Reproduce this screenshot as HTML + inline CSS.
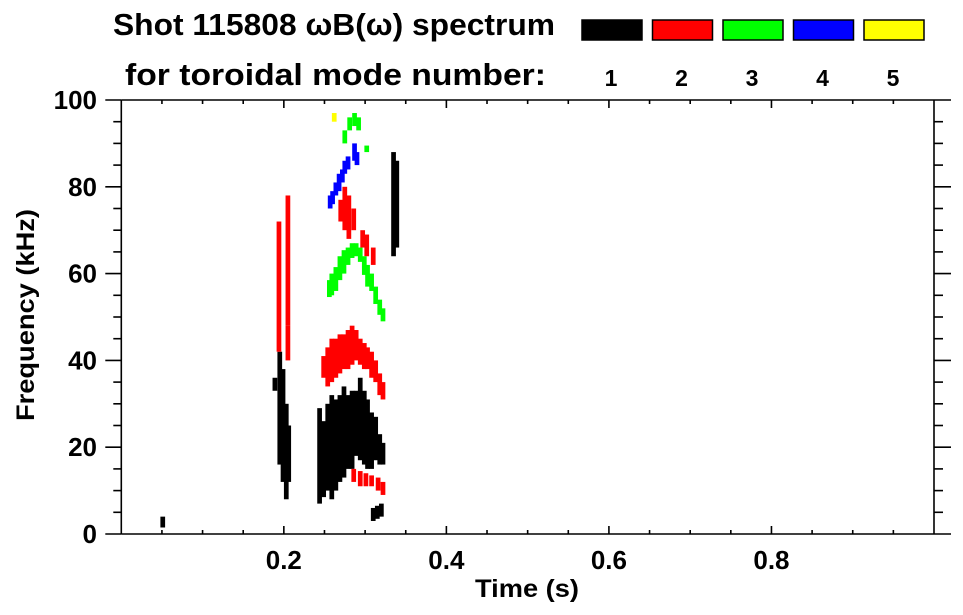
<!DOCTYPE html>
<html><head><meta charset="utf-8"><style>
html,body{margin:0;padding:0;background:#fff;}
svg{display:block;font-family:"Liberation Sans",Arial,sans-serif;font-weight:bold;}
</style></head><body>
<svg id="chart" width="963" height="615" viewBox="0 0 963 615">
<text x="113" y="35" font-size="31" textLength="442" lengthAdjust="spacingAndGlyphs">Shot 115808 ωB(ω) spectrum</text>
<text x="125" y="85" font-size="31" textLength="421" lengthAdjust="spacingAndGlyphs">for toroidal mode number:</text>
<g id="legend"></g>
<g id="marks"></g>
<g id="axes"></g>
<text x="527" y="597" font-size="25" text-anchor="middle" textLength="104" lengthAdjust="spacingAndGlyphs">Time (s)</text>
<text transform="translate(34,315) rotate(-90)" font-size="25" text-anchor="middle" textLength="212" lengthAdjust="spacingAndGlyphs">Frequency (kHz)</text>
</svg>
<script>
const modeLabels = ["1","2","3","4","5"];
const modeColors = ["#000000","#ff0000","#00ff00","#0000ff","#ffff00"];
const xTickValues = [0.2,0.4,0.6,0.8];
const yTickValues = [0,20,40,60,80,100];
// spectrogram columns: [time s, fLow kHz, fHigh kHz]
const mode1Cols = [
 [0.051,1.5,4],[0.189,33,36],
 [0.195,16,42],[0.199,12,38],[0.203,8,30],[0.206,12,25],
 [0.244,7,29],[0.249,8.5,26],[0.254,10,30],[0.259,8,32],[0.264,10,31],[0.269,12,32],[0.274,13,34],[0.279,15,32],[0.284,15,33],[0.289,18,33],[0.294,17,36],[0.299,16,33],[0.303,15,31],[0.308,15,28],[0.313,17,27],[0.318,16,23],[0.322,16,21],
 [0.310,3,6],[0.315,3.5,6.5],[0.320,4,7],
 [0.335,64,88],[0.339,66,86]
];
const mode2Cols = [
 [0.194,42,72],[0.205,48,78],[0.205,40,48],
 [0.249,36,41],[0.254,34,43],[0.259,35,45],[0.264,36,45],[0.269,37,46],[0.274,38,46],[0.279,38,47],[0.284,39,48],[0.289,40,47],[0.294,39,45],[0.299,38,44],[0.303,38,43],[0.308,36,42],[0.313,35,40],[0.318,32,37],[0.322,31,35],
 [0.286,12,15],[0.294,11,14.5],[0.301,11,14],[0.308,11,13.5],[0.316,10,13],[0.322,9,12],
 [0.270,72,77],[0.275,70,80],[0.280,68,78],[0.286,70,75],[0.297,66,70],[0.302,64,69],[0.310,62,66]
];
const mode3Cols = [
 [0.256,54.6,58.5],[0.259,55,60],[0.264,56,61.5],[0.269,58.5,64],[0.274,60,65.4],[0.279,62,66],[0.284,63.6,67],[0.289,64,67],[0.294,62.7,66],[0.299,59.7,64],[0.303,57,62],[0.308,56,60],[0.313,53,57],[0.318,50.5,54],[0.322,49,52],
 [0.275,90,93],[0.281,93,96],[0.287,94,97],[0.292,93,96],[0.302,88,89.5]
];
const mode4Cols = [
 [0.257,75,78],[0.260,76,79],[0.264,78,81],[0.268,79,83],[0.272,81,84],[0.275,83,86],[0.279,84,87],[0.287,86,90],[0.290,85,88]
];
const mode5Cols = [[0.262,95,97]];
const allModes = [mode1Cols,mode2Cols,mode3Cols,mode4Cols,mode5Cols];

const X0=121.3, X1=934, Y0=534, Y1=100;
const xScale = t => X0 + t*(X1-X0)/1.0;
const yScale = f => Y0 - f*(Y0-Y1)/100;
const NS="http://www.w3.org/2000/svg";
function mk(tag,parent){const e=document.createElementNS(NS,tag);parent.appendChild(e);return e;}

// legend
const lg=document.getElementById('legend');
modeLabels.forEach((lab,i)=>{
  const bx=582+i*70.5;
  const r=mk('rect',lg);
  r.setAttribute('x',bx);r.setAttribute('y',20);r.setAttribute('width',60);r.setAttribute('height',20);
  r.setAttribute('fill',modeColors[i]);r.setAttribute('stroke','#000');r.setAttribute('stroke-width',1.5);
  
  
  const t=mk('text',lg);
  t.setAttribute('x',bx+29);t.setAttribute('y',86);t.setAttribute('font-size',23);t.setAttribute('text-anchor','middle');
  t.textContent=lab;
  
  
});

// marks
const mg=document.getElementById('marks');
const dt=0.0058;
allModes.forEach((cols,m)=>{
  cols.forEach(c=>{
    const r=mk('rect',mg);
    const x=xScale(c[0]-dt/2), w=xScale(c[0]+dt/2)-x;
    r.setAttribute('x',x);r.setAttribute('width',w);
    r.setAttribute('y',yScale(c[2]));r.setAttribute('height',yScale(c[1])-yScale(c[2]));
    r.setAttribute('fill',modeColors[m]);
    
    
  });
});

// axes
const ax=document.getElementById('axes');
function line(x1,y1,x2,y2,name){
  const l=mk('line',ax);
  l.setAttribute('x1',x1);l.setAttribute('y1',y1);l.setAttribute('x2',x2);l.setAttribute('y2',y2);
  l.setAttribute('stroke','#000');l.setAttribute('stroke-width',1.6);
  
  
}
line(X0,Y1,X0,Y0,'y-axis-left');
line(X1,Y1,X1,Y0,'y-axis-right');
line(X0,Y0,X1,Y0,'x-axis-bottom');
line(X0,Y1,X1,Y1,'x-axis-top');
for(let f=0;f<=100;f+=5){
  const y=yScale(f), major=(f%20===0);
  line(X0-(major?16:8),y,X0,y,'y-tick-left');
  line(X1,y,X1+(major?17:9),y,'y-tick-right');
}
for(let k=1;k<20;k++){
  const t=k*0.05, x=xScale(t), major=(k%4===0);
  line(x,Y0,x,Y0-(major?8:4),'x-tick-bottom');
  line(x,Y1,x,Y1+(major?8:4),'x-tick-top');
}
xTickValues.forEach(v=>{
  const t=mk('text',ax);
  t.setAttribute('x',xScale(v));t.setAttribute('y',569);t.setAttribute('font-size',26);t.setAttribute('text-anchor','middle');
  t.textContent=v.toFixed(1);
  
  
});
yTickValues.forEach(v=>{
  const t=mk('text',ax);
  t.setAttribute('x',97);t.setAttribute('y',yScale(v)+9);t.setAttribute('font-size',26);t.setAttribute('text-anchor','end');
  t.textContent=String(v);
  
  
});
</script>
</body></html>
